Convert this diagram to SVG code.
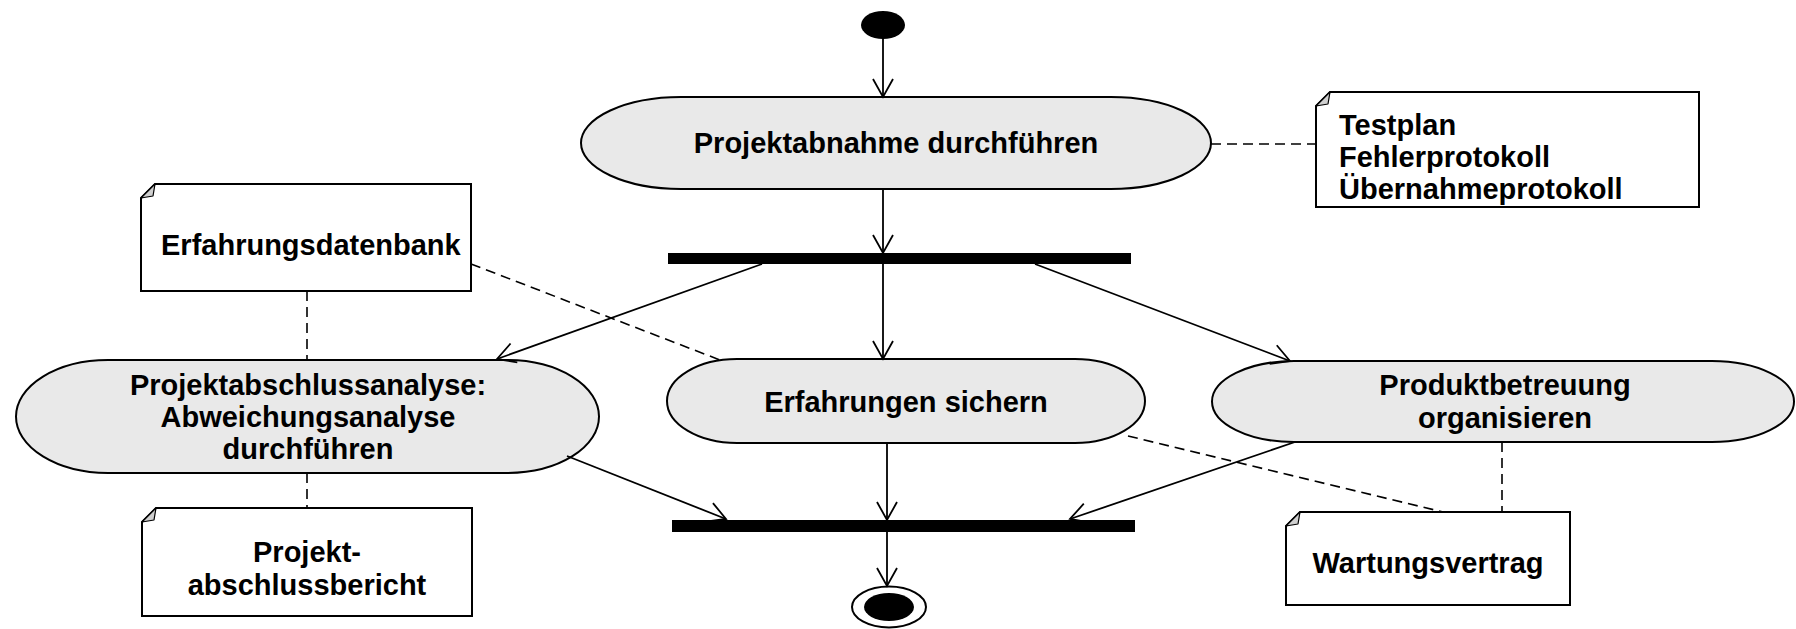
<svg xmlns="http://www.w3.org/2000/svg" width="1796" height="629" viewBox="0 0 1796 629">
  <style>
    .action { fill: #e9e9e9; stroke: #000; stroke-width: 2; }
    .note { fill: #fff; stroke: #000; stroke-width: 2; }
    .fold { fill: #d0d0d0; stroke: #000; stroke-width: 1.2; stroke-linejoin: round; }
    .bar { fill: #000; }
    .flow { fill: none; stroke: #000; stroke-width: 1.8; marker-end: url(#arrow); }
    .link { fill: none; stroke: #000; stroke-width: 1.6; stroke-dasharray: 10 6; }
    text { font-family: "Liberation Sans", Arial, sans-serif; font-weight: bold; font-size: 29px; fill: #000; }
    .c { text-anchor: middle; }
  </style>
  <defs>
    <marker id="arrow" markerUnits="userSpaceOnUse" markerWidth="24" markerHeight="24" viewBox="-20 -12 22 24" refX="0" refY="0" orient="auto">
      <path d="M -18 -10 L 0 0 L -18 10" fill="none" stroke="#000" stroke-width="1.8"/>
    </marker>
  </defs>

  <!-- initial and final states -->
  <g id="start">
    <ellipse cx="883" cy="25" rx="22" ry="14" fill="#000"/>
  </g>
  <g id="end">
    <ellipse cx="889" cy="607" rx="37" ry="20.5" fill="#fff" stroke="#000" stroke-width="2"/>
    <ellipse cx="889" cy="607" rx="25" ry="14" fill="#000"/>
  </g>

  <!-- synchronisation bars -->
  <g id="fork"><rect class="bar" x="668" y="253" width="463" height="11"/></g>
  <g id="join"><rect class="bar" x="672" y="520" width="463" height="12"/></g>

  <!-- activities -->
  <g id="projektabnahme">
    <rect class="action" x="581" y="97" width="630" height="92" rx="100" ry="46"/>
    <text class="c" x="896" y="153">Projektabnahme durchführen</text>
  </g>
  <g id="abschlussanalyse">
    <rect class="action" x="16" y="360" width="583" height="113" rx="92" ry="56.5"/>
    <text class="c" x="308" y="395">Projektabschlussanalyse:</text>
    <text class="c" x="308" y="427">Abweichungsanalyse</text>
    <text class="c" x="308" y="459">durchführen</text>
  </g>
  <g id="erfahrungen">
    <rect class="action" x="667" y="359" width="478" height="84" rx="70" ry="42"/>
    <text class="c" x="906" y="412">Erfahrungen sichern</text>
  </g>
  <g id="produktbetreuung">
    <rect class="action" x="1212" y="361" width="582" height="81" rx="82" ry="40.5"/>
    <text class="c" x="1505" y="395">Produktbetreuung</text>
    <text class="c" x="1505" y="428">organisieren</text>
  </g>

  <!-- notes -->
  <g id="note-abnahme">
    <path class="note" d="M1316 106 L1330 92 L1699 92 L1699 207 L1316 207 Z"/>
    <path class="fold" d="M1316 106 L1330 92 L1328 104 Z"/>
    <text x="1339" y="135">Testplan</text>
    <text x="1339" y="167">Fehlerprotokoll</text>
    <text x="1339" y="199">Übernahmeprotokoll</text>
  </g>
  <g id="note-datenbank">
    <path class="note" d="M141 198 L155 184 L471 184 L471 291 L141 291 Z"/>
    <path class="fold" d="M141 198 L155 184 L153 196 Z"/>
    <text x="161" y="255">Erfahrungsdatenbank</text>
  </g>
  <g id="note-bericht">
    <path class="note" d="M142 522 L156 508 L472 508 L472 616 L142 616 Z"/>
    <path class="fold" d="M142 522 L156 508 L154 520 Z"/>
    <text class="c" x="307" y="562">Projekt-</text>
    <text class="c" x="307" y="595">abschlussbericht</text>
  </g>
  <g id="note-wartung">
    <path class="note" d="M1286 526 L1300 512 L1570 512 L1570 605 L1286 605 Z"/>
    <path class="fold" d="M1286 526 L1300 512 L1298 524 Z"/>
    <text class="c" x="1428" y="573">Wartungsvertrag</text>
  </g>

  <!-- connectors -->
  <g id="connectors">
    <line class="flow" x1="883" y1="39" x2="883" y2="97"/>
    <line class="flow" x1="883" y1="189" x2="883" y2="253"/>
    <line class="flow" x1="762" y1="264" x2="497" y2="359"/>
    <line class="flow" x1="883" y1="264" x2="883" y2="359"/>
    <line class="flow" x1="1035" y1="264" x2="1290" y2="361"/>
    <line class="flow" x1="567" y1="456" x2="726" y2="519"/>
    <line class="flow" x1="887" y1="443" x2="887" y2="520"/>
    <line class="flow" x1="1295" y1="442" x2="1070" y2="519"/>
    <line class="flow" x1="887" y1="532" x2="887" y2="586"/>

    <line class="link" x1="1211" y1="144" x2="1316" y2="144"/>
    <line class="link" x1="307" y1="291" x2="307" y2="360"/>
    <line class="link" x1="471" y1="264" x2="720" y2="360"/>
    <line class="link" x1="307" y1="473" x2="307" y2="508"/>
    <line class="link" x1="1128" y1="436" x2="1443" y2="512"/>
    <line class="link" x1="1502" y1="442" x2="1502" y2="512"/>
  </g>
</svg>
